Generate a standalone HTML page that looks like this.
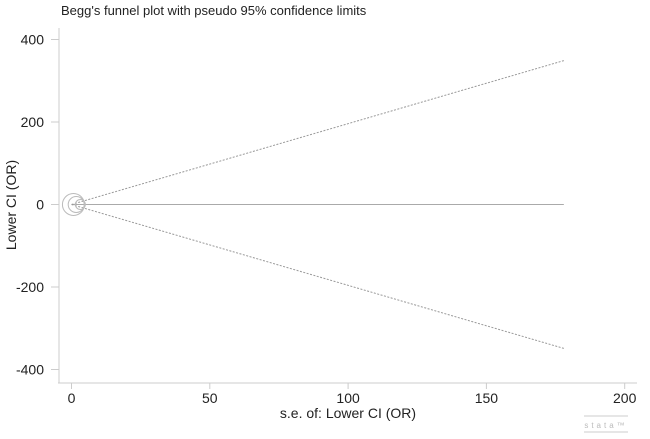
<!DOCTYPE html>
<html><head><meta charset="utf-8"><style>
body{margin:0;background:#fff;}
svg{display:block;font-family:"Liberation Sans",Arial,sans-serif;}
</style></head><body>
<svg width="650" height="439" viewBox="0 0 650 439">
<text x="61" y="15" font-size="13" fill="#222">Begg's funnel plot with pseudo 95% confidence limits</text>
<g id="axes"></g>
<g id="marks"></g>
<text x="348" y="418" font-size="14" text-anchor="middle" fill="#222">s.e. of: Lower CI (OR)</text>
<text transform="translate(16,205) rotate(-90)" font-size="14" text-anchor="middle" fill="#222">Lower CI (OR)</text>
<g>
<line x1="584" y1="416" x2="628" y2="416" stroke="#ccc" stroke-width="1"/>
<text x="606" y="428" font-size="8" text-anchor="middle" fill="#bbb" letter-spacing="3">stata™</text>
<line x1="584" y1="432" x2="628" y2="432" stroke="#ccc" stroke-width="1"/>
</g>
</svg>
<script>
const xTicks=[0,50,100,150,200];
const yTicks=[400,200,0,-200,-400];
const seValues=[0.7,1.7,3.2];
const effectValues=[0,0,0];
const markerSizes=[11,8,5];
const funnelMaxSe=178;
const funnelSlope=1.96;
const NS="http://www.w3.org/2000/svg";
function sx(v){return 71.5+v*2.766;}
function sy(v){return 204.5-v*0.4125;}
const axes=document.getElementById('axes'),marks=document.getElementById('marks');
function mk(tag,attrs,parent){const e=document.createElementNS(NS,tag);for(const k in attrs)e.setAttribute(k,attrs[k]);parent.appendChild(e);return e;}
let e=mk('line',{x1:59,y1:28,x2:59,y2:383,stroke:'#ccc','stroke-width':1},axes);


e=mk('line',{x1:58,y1:383,x2:637,y2:383,stroke:'#ccc','stroke-width':1},axes);


xTicks.forEach(t=>{
 let l=mk('line',{x1:sx(t),y1:383,x2:sx(t),y2:389,stroke:'#ccc'},axes);
 
 
 let tx=mk('text',{x:sx(t),y:403,'font-size':14,'text-anchor':'middle',fill:'#222'},axes);
 tx.textContent=t;
 
 
});
yTicks.forEach(t=>{
 let l=mk('line',{x1:51,y1:sy(t),x2:59,y2:sy(t),stroke:'#ccc'},axes);
 
 
 let tx=mk('text',{x:44,y:sy(t)+5,'font-size':14,'text-anchor':'end',fill:'#222'},axes);
 tx.textContent=t;
 
 
});
e=mk('line',{x1:sx(0),y1:sy(0),x2:sx(funnelMaxSe),y2:sy(0),stroke:'#aaa','stroke-width':1},marks);


[1,-1].forEach(s=>{
 let l=mk('line',{x1:sx(0),y1:sy(0),x2:sx(funnelMaxSe),y2:sy(s*funnelSlope*funnelMaxSe),stroke:'#999','stroke-width':1,'stroke-dasharray':'2,1.5'},marks);
 
 
});
seValues.forEach((v,i)=>{
 let c=mk('circle',{cx:sx(v),cy:sy(effectValues[i]),r:markerSizes[i],fill:'none',stroke:'#bbb','stroke-width':1},marks);
 
 
});
</script>
</body></html>
